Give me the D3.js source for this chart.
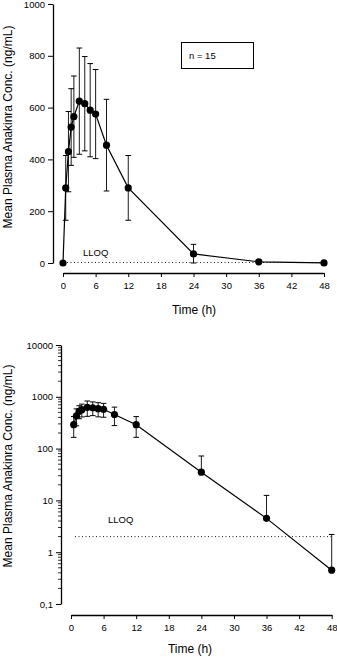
<!DOCTYPE html>
<html><head><meta charset="utf-8">
<script src="https://cdn.jsdelivr.net/npm/d3@7"></script>
<style>body{margin:0;background:#fff}svg{display:block}text{font-family:"Liberation Sans",Arial,sans-serif;fill:#000}</style>
</head><body><svg id="c" width="337" height="657"></svg>
<script>
const times = [0, 0.5, 1, 1.5, 2, 3, 4, 5, 6, 8, 12, 24, 36, 48];
const means = [0, 290, 430, 525, 565, 625, 615, 590, 575, 455, 290, 35, 4.5, 0.45];
const sds   = [0, 125, 155, 148, 157, 205, 182, 180, 172, 177, 125, 37, 8, 1.75];
const xTicks = [0, 6, 12, 18, 24, 30, 36, 42, 48];
const linTicks = [0, 200, 400, 600, 800, 1000];
const logTicks = [0.1, 1, 10, 100, 1000, 10000];
const logTickLabels = ["0,1", "1", "10", "100", "1000", "10000"];
const lloq = 2;
const nLabel = "n = 15";
const yTitle = "Mean Plasma Anakinra Conc. (ng/mL)";
const xTitle = "Time (h)";

const data = times.map((t, i) => ({t, m: means[i], sd: sds[i]}));
const svg = d3.select("#c");

function panel(cfg) {
  const g = svg.append("g");
  const x = d3.scaleLinear().domain([0, 48]).range(cfg.xr);
  const y = cfg.y;
  const ya = g.append("g").attr("transform", `translate(${cfg.yAxisX},0)`)
    .call(d3.axisLeft(y).tickValues(cfg.yTicks).tickFormat((d, i) => cfg.yLabels[i]).tickSize(5).tickPadding(3).tickSizeOuter(0));
  ya.select(".domain").attr("stroke-width", 1.3);
  ya.selectAll("text").style("font-size", "9.5px").style("font-family", '"Liberation Sans",Arial,sans-serif');
  if (cfg.minor) {
    const minors = [];
    for (let e = -1; e < 4; e++) for (let k = 2; k <= 9; k++) minors.push(k * Math.pow(10, e));
    g.selectAll(".mn").data(minors).enter().append("line")
      .attr("x1", cfg.yAxisX - 3).attr("x2", cfg.yAxisX)
      .attr("y1", d => y(d)).attr("y2", d => y(d)).attr("stroke", "#000").attr("stroke-width", 0.8);
  }
  const xa = g.append("g").attr("transform", `translate(0,${cfg.xAxisY})`)
    .call(d3.axisBottom(x).tickValues(xTicks).tickSize(4).tickPadding(5).tickSizeOuter(0));
  xa.select(".domain").attr("stroke-width", 1.6);
  xa.selectAll("text").style("font-size", "9.5px").style("font-family", '"Liberation Sans",Arial,sans-serif');
  g.append("text").attr("x", cfg.xTitleX).attr("y", cfg.xTitleY).attr("text-anchor", "middle")
    .attr("dominant-baseline", "middle").style("font-size", "12px").text(xTitle);
  g.append("text").attr("transform", `translate(${cfg.yTitleX},${cfg.yTitleY}) rotate(-90)`)
    .attr("text-anchor", "middle").attr("dominant-baseline", "middle").style("font-size", "12px").text(yTitle);
  g.append("line").attr("x1", x(0) + 4).attr("x2", x(48)).attr("y1", y(lloq)).attr("y2", y(lloq))
    .attr("stroke", "#000").attr("stroke-width", 0.9).attr("stroke-dasharray", "1,2.5");
  g.append("text").attr("x", cfg.lloqX).attr("y", cfg.lloqY).attr("dominant-baseline", "middle")
    .style("font-size", "9.5px").text("LLOQ");
  const pts = data.filter(cfg.filter);
  const cap = 2.8;
  pts.forEach(d => {
    if (d.sd <= 0) return;
    const hi = d.m + d.sd;
    let lo = d.m - d.sd;
    const hasLo = cfg.log ? lo > 0 : true;
    if (!cfg.log && lo < 0) lo = 0;
    g.append("line").attr("x1", x(d.t)).attr("x2", x(d.t)).attr("y1", y(hi)).attr("y2", hasLo ? y(lo) : y(d.m))
      .attr("stroke", "#000").attr("stroke-width", 0.9);
    g.append("line").attr("x1", x(d.t) - cap).attr("x2", x(d.t) + cap).attr("y1", y(hi)).attr("y2", y(hi))
      .attr("stroke", "#000").attr("stroke-width", 1);
    if (hasLo) g.append("line").attr("x1", x(d.t) - cap).attr("x2", x(d.t) + cap).attr("y1", y(lo)).attr("y2", y(lo))
      .attr("stroke", "#000").attr("stroke-width", 1);
  });
  g.append("path").datum(pts).attr("fill", "none").attr("stroke", "#000").attr("stroke-width", 1.2)
    .attr("d", d3.line().x(d => x(d.t)).y(d => y(d.m)));
  g.selectAll(".pt").data(pts).enter().append("circle")
    .attr("cx", d => x(d.t)).attr("cy", d => y(d.m)).attr("r", 3.6).attr("fill", "#000");
  return {g, x, y};
}

const topPanel = panel({
  xr: [63, 324], y: d3.scaleLinear().domain([0, 1000]).range([263, 4]),
  yAxisX: 53, yTicks: linTicks, yLabels: linTicks.map(String), xAxisY: 273,
  xTitleX: 194, xTitleY: 311, yTitleX: 9, yTitleY: 127, lloqX: 83, lloqY: 253,
  filter: d => true, log: false
});
topPanel.g.append("rect").attr("x", 181.5).attr("y", 42.5).attr("width", 72).attr("height", 26)
  .attr("fill", "none").attr("stroke", "#000").attr("stroke-width", 1);
topPanel.g.append("text").attr("x", 189).attr("y", 56).attr("dominant-baseline", "middle")
  .style("font-size", "9.5px").text(nLabel);

panel({
  xr: [71, 331.7], y: d3.scaleLog().domain([0.1, 10000]).range([604, 345]),
  yAxisX: 61, yTicks: logTicks, yLabels: logTickLabels, xAxisY: 615, minor: true,
  xTitleX: 190, xTitleY: 650, yTitleX: 9, yTitleY: 466, lloqX: 108, lloqY: 520,
  filter: d => d.m > 0, log: true
});
</script></body></html>
